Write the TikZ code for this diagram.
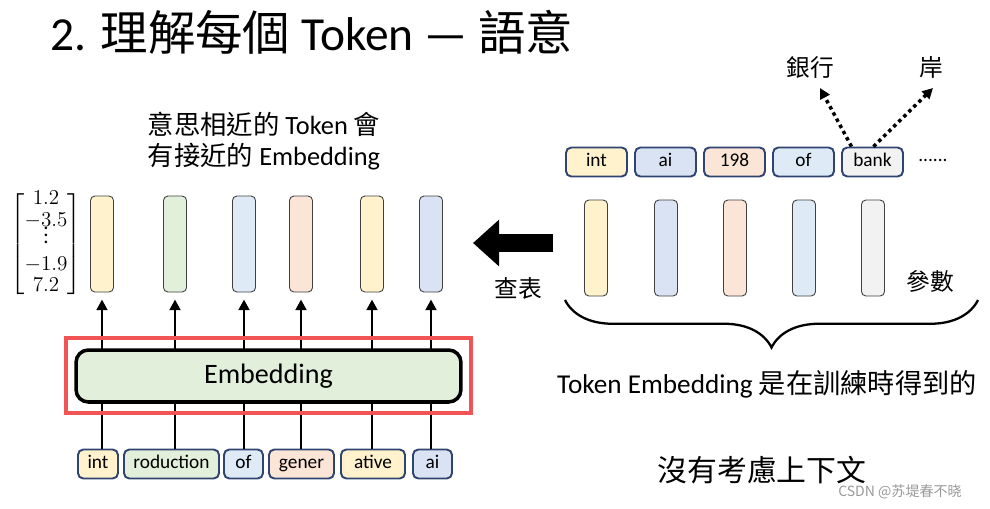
\documentclass[tikz,border=0pt]{standalone}
\usepackage{fontspec}
\usepackage{amsmath}
\setmainfont{Carlito}
\newfontfamily\cjk{Noto Sans CJK TC}
\newfontfamily\wm{Noto Sans CJK SC}
\usetikzlibrary{arrows.meta,decorations.pathreplacing}
\definecolor{cy}{HTML}{FFF2CC}
\definecolor{cg}{HTML}{E2EFDA}
\definecolor{cb}{HTML}{DEEBF7}
\definecolor{cp}{HTML}{FBE5D6}
\definecolor{cl}{HTML}{DAE3F3}
\definecolor{cgr}{HTML}{F2F2F2}
\definecolor{tb}{HTML}{2F4470}
\definecolor{rd}{HTML}{F05454}
\begin{document}
\begin{tikzpicture}[x=0.02cm,y=-0.02cm,
  bar/.style={draw=black!75,rounded corners=2.5pt,minimum width=0.46cm,minimum height=1.92cm,inner sep=0pt,line width=0.5pt},
  tok/.style={draw=tb,line width=1.1pt,rounded corners=3pt,minimum height=0.58cm,inner sep=0pt,text height=7.5pt,text depth=2.2pt,font=\fontsize{11}{12}\selectfont},
  up/.style={-{Triangle[length=6pt,width=6pt]},line width=1.7pt},
  dot/.style={-{Triangle[length=6pt,width=6pt]},line width=2pt,dotted},
  lab/.style={inner sep=0pt}]
\useasboundingbox (0,0) rectangle (990,508);
\node[lab,anchor=base west] (title) at (50,50) {\fontsize{27}{30}\selectfont 2. {\cjk 理解每個} Token — {\cjk 語意}};
% left matrix
\node[lab] (mat) at (46,244) {\fontsize{12}{13}\selectfont$\renewcommand\arraystretch{0.95}\begin{bmatrix}1.2\\-3.5\\\raisebox{3pt}{\smash{$\vdots$}}\\-1.9\\7.2\end{bmatrix}$};
\node[lab,align=center,font=\fontsize{15}{18}\selectfont] (desc) at (264,141) {{\cjk 意思相近的} Token {\cjk 會}\\{\cjk 有接近的} Embedding};
% left bars
\foreach \n/\x/\c in {1/102/cy,2/175/cg,3/244/cb,4/301/cp,5/372/cy,6/431/cl}
  \node[bar,fill=\c] (L\n) at (\x,244) {};
% tokens
\foreach \n/\a/\b/\c/\t in {1/78/118/cy/int,2/124/219/cg/roduction,3/224/263/cb/of,4/269/334/cp/gener,5/341/405/cy/ative,6/413/452/cl/ai}
  \node[tok,fill=\c,minimum width={(\b-\a)*0.02cm}] (T\n) at ({(\a+\b)/2},464) {\t};
\foreach \n in {1,...,6} \draw[up] (T\n.north -| L\n) -- ([yshift=-4pt]L\n.south);
% embedding
\node[draw,line width=2pt,rounded corners=7pt,fill=cg,minimum width=7.7cm,minimum height=1.04cm,font=\fontsize{16}{18}\selectfont] (emb) at (268.5,376) {Embedding};
\node[draw=rd,line width=2.2pt,minimum width=8.1cm,minimum height=1.5cm] (red) at (268.5,375.5) {};
% big arrow
\coordinate (ba1) at (553,243);
\coordinate (ba2) at (473,243);
\draw[line width=0.36cm,-{Triangle[length=0.52cm,width=0.9cm]}] (ba1) -- (ba2);
\node[lab] (cb1) at (518,288) {\fontsize{13.5}{16}\selectfont\cjk 查表};
% right tokens
\foreach \n/\a/\c/\t in {1/566/cy/int,2/635/cl/ai,3/704/cp/198,4/773/cb/of,5/842/cgr/bank}
  \node[tok,fill=\c,minimum width=1.22cm] (R\n) at ({\a+30.5},162) {\t};
\node[lab] (dots) at (933,160) {\fontsize{11}{12}\selectfont ......};
\foreach \n/\x/\c in {1/596/cy,2/666/cl,3/735/cp,4/804/cb,5/873/cgr}
  \node[bar,fill=\c] (RB\n) at (\x,248) {};
\node[lab] (cs) at (930,281) {\fontsize{13.5}{16}\selectfont\cjk 參數};
% bank meanings
\node[lab] (bank1) at (810,68) {\fontsize{13.5}{16}\selectfont\cjk 銀行};
\node[lab] (shore) at (931,67) {\fontsize{13.5}{16}\selectfont\cjk 岸};
\draw[dot] ([xshift=-0.42cm]R5.north) -- (820,88);
\draw[dot] ([xshift=0.02cm]R5.north) -- (933,88);
% brace
\coordinate (br1) at (978,300);
\coordinate (br2) at (565,300);
\draw[line width=1.3pt,decorate,decoration={brace,amplitude=0.95cm}] (br1) -- (br2);
\node[lab] (te) at (767,384) {\fontsize{15.5}{18}\selectfont Token Embedding {\cjk 是在訓練時得到的}};
\node[lab] (nc) at (762,470) {\fontsize{17}{20}\selectfont\cjk 沒有考慮上下文};
\node[lab,text=black!40] (wm) at (900,492) {\fontsize{8}{10}\selectfont\wm CSDN @苏堤春不晓};
\end{tikzpicture}
\end{document}
